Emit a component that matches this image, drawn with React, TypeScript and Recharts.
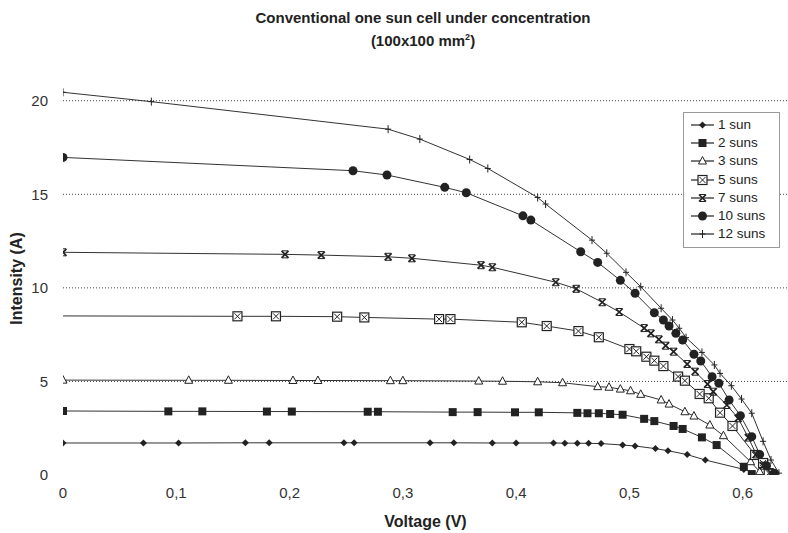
import { LineChart, Line, XAxis, YAxis, CartesianGrid, Legend, Label } from 'recharts';

// I-V curves (voltage in V, intensity in A)
const voltage1 = [0, 0.071, 0.102, 0.161, 0.182, 0.248, 0.257, 0.324, 0.345, 0.379, 0.4, 0.433, 0.443, 0.454, 0.464, 0.475, 0.494, 0.505, 0.523, 0.534, 0.551, 0.567, 0.601];
const current1 = [1.71, 1.71, 1.71, 1.72, 1.72, 1.72, 1.72, 1.72, 1.72, 1.71, 1.71, 1.71, 1.7, 1.7, 1.69, 1.68, 1.6, 1.55, 1.41, 1.3, 1.09, 0.8, 0.3];

const voltage2 = [0, 0.093, 0.123, 0.18, 0.202, 0.269, 0.278, 0.344, 0.366, 0.399, 0.42, 0.454, 0.463, 0.473, 0.483, 0.494, 0.513, 0.522, 0.539, 0.547, 0.564, 0.577, 0.601, 0.608];
const current2 = [3.42, 3.4, 3.4, 3.39, 3.39, 3.38, 3.38, 3.36, 3.36, 3.35, 3.35, 3.32, 3.3, 3.3, 3.26, 3.22, 3.0, 2.88, 2.62, 2.46, 2.01, 1.6, 0.44, 0.05];

const voltage3 = [0, 0.111, 0.146, 0.203, 0.225, 0.289, 0.3, 0.367, 0.388, 0.419, 0.441, 0.472, 0.482, 0.492, 0.501, 0.51, 0.528, 0.535, 0.549, 0.557, 0.571, 0.583, 0.607, 0.615];
const current3 = [5.07, 5.06, 5.06, 5.05, 5.05, 5.04, 5.04, 5.02, 5.01, 4.98, 4.93, 4.72, 4.69, 4.59, 4.5, 4.31, 4.01, 3.79, 3.38, 3.15, 2.67, 2.1, 0.71, 0.18];

const voltage5 = [0, 0.154, 0.188, 0.242, 0.266, 0.332, 0.342, 0.405, 0.427, 0.455, 0.473, 0.5, 0.506, 0.515, 0.522, 0.53, 0.543, 0.549, 0.562, 0.57, 0.58, 0.591, 0.611, 0.618, 0.623];
const current5 = [8.5, 8.48, 8.48, 8.46, 8.42, 8.33, 8.33, 8.16, 7.96, 7.69, 7.36, 6.73, 6.61, 6.32, 6.11, 5.82, 5.26, 5.04, 4.33, 4.1, 3.33, 2.62, 1.07, 0.64, 0.1];

const voltage7 = [0, 0.196, 0.228, 0.287, 0.308, 0.369, 0.379, 0.435, 0.453, 0.476, 0.491, 0.513, 0.519, 0.526, 0.532, 0.539, 0.551, 0.558, 0.569, 0.574, 0.586, 0.596, 0.605, 0.612, 0.618, 0.625];
const current7 = [11.9, 11.79, 11.75, 11.66, 11.58, 11.21, 11.1, 10.3, 9.95, 9.23, 8.71, 7.85, 7.57, 7.25, 6.91, 6.59, 5.93, 5.52, 4.86, 4.45, 3.74, 3.03, 2.0, 1.1, 0.5, 0.1];

const voltage10 = [0, 0.256, 0.286, 0.337, 0.356, 0.406, 0.413, 0.457, 0.472, 0.492, 0.505, 0.522, 0.53, 0.535, 0.541, 0.547, 0.557, 0.563, 0.573, 0.579, 0.588, 0.598, 0.608, 0.615, 0.621, 0.628];
const current10 = [16.97, 16.26, 16.03, 15.37, 15.08, 13.85, 13.62, 11.93, 11.36, 10.4, 9.71, 8.67, 8.28, 7.96, 7.57, 7.21, 6.45, 6.09, 5.25, 4.9, 4.01, 3.17, 2.05, 1.1, 0.5, 0.1];

const voltage12 = [0, 0.078, 0.287, 0.315, 0.359, 0.375, 0.419, 0.426, 0.467, 0.48, 0.497, 0.51, 0.528, 0.538, 0.544, 0.55, 0.564, 0.575, 0.58, 0.59, 0.599, 0.608, 0.618, 0.625, 0.632];
const current12 = [20.45, 19.95, 18.48, 17.95, 16.86, 16.38, 14.83, 14.48, 12.55, 11.85, 10.83, 10.06, 8.91, 8.28, 7.84, 7.34, 6.55, 5.88, 5.43, 4.77, 4.06, 3.3, 1.8, 0.8, 0.1];

const seriesNames = ['1 sun', '2 suns', '3 suns', '5 suns', '7 suns', '10 suns', '12 suns'];
const xTicks = [0, 0.1, 0.2, 0.3, 0.4, 0.5, 0.6];
const yTicks = [0, 5, 10, 15, 20];
const gridValues = [5, 10, 15, 20];

const INK = '#222';
const FONT = '"Liberation Sans", Arial, Helvetica, sans-serif';

type Shape = 'diamond' | 'square' | 'triangle' | 'boxcross' | 'star' | 'circle' | 'plus';

const toPoints = (v: number[], i: number[]) => v.map((x, k) => ({ v: x, i: i[k] }));

// hideFirst: the scan shows no marker at V=0 for that curve
const series: { name: string; shape: Shape; hideFirst?: boolean; data: { v: number; i: number }[] }[] = [
  { name: seriesNames[0], shape: 'diamond', data: toPoints(voltage1, current1) },
  { name: seriesNames[1], shape: 'square', data: toPoints(voltage2, current2) },
  { name: seriesNames[2], shape: 'triangle', data: toPoints(voltage3, current3) },
  { name: seriesNames[3], shape: 'boxcross', hideFirst: true, data: toPoints(voltage5, current5) },
  { name: seriesNames[4], shape: 'star', data: toPoints(voltage7, current7) },
  { name: seriesNames[5], shape: 'circle', data: toPoints(voltage10, current10) },
  { name: seriesNames[6], shape: 'plus', data: toPoints(voltage12, current12) },
];

const Marker = ({ shape, cx, cy }: { shape: Shape; cx: number; cy: number }) => {
  if (cx == null || cy == null) return <g />;
  switch (shape) {
    case 'diamond':
      return <polygon points={`${cx},${cy - 3.5} ${cx + 3.5},${cy} ${cx},${cy + 3.5} ${cx - 3.5},${cy}`} fill={INK} />;
    case 'square':
      return <rect x={cx - 4} y={cy - 4} width={8} height={8} fill={INK} />;
    case 'triangle':
      return <polygon points={`${cx},${cy - 4.5} ${cx + 4},${cy + 3} ${cx - 4},${cy + 3}`} fill="#fff" stroke={INK} strokeWidth={1} />;
    case 'boxcross':
      return (
        <g>
          <rect x={cx - 4.5} y={cy - 4.5} width={9} height={9} fill="#fff" stroke={INK} strokeWidth={1.2} />
          <path d={`M${cx - 3},${cy - 3}L${cx + 3},${cy + 3}M${cx + 3},${cy - 3}L${cx - 3},${cy + 3}`} stroke={INK} strokeWidth={1} />
        </g>
      );
    case 'star':
      return (
        <g>
          <path d={`M${cx - 3.5},${cy - 3.5}L${cx + 3.5},${cy + 3.5}M${cx + 3.5},${cy - 3.5}L${cx - 3.5},${cy + 3.5}`} stroke={INK} strokeWidth={1.7} />
          <path d={`M${cx - 3},${cy - 3.5}L${cx + 3},${cy - 3.5}M${cx - 3},${cy + 3.5}L${cx + 3},${cy + 3.5}`} stroke={INK} strokeWidth={1} />
        </g>
      );
    case 'circle':
      return <circle cx={cx} cy={cy} r={4.5} fill={INK} />;
    case 'plus':
      return <path d={`M${cx - 3},${cy}L${cx + 3},${cy}M${cx},${cy - 4}L${cx},${cy + 4}`} stroke={INK} strokeWidth={1} />;
    default:
      return <g />;
  }
};

const LegendBox = () => (
  <div
    style={{
      width: 97,
      height: 136,
      boxSizing: 'border-box',
      border: '1px solid #9a9a9a',
      background: '#fff',
      padding: '3px 0 0 7px',
      fontFamily: FONT,
    }}
  >
    {series.map((s) => (
      <div key={s.name} style={{ display: 'flex', alignItems: 'center', height: 18.2 }}>
        <svg width={23} height={12} style={{ overflow: 'visible' }}>
          <line x1={0} y1={6} x2={23} y2={6} stroke={INK} strokeWidth={1.2} />
          <Marker shape={s.shape} cx={11.5} cy={6} />
        </svg>
        <span style={{ marginLeft: 4, fontSize: 13.5, color: '#222', lineHeight: '14px' }}>{s.name}</span>
      </div>
    ))}
  </div>
);

const YTitle = ({ viewBox }: any) => {
  const cx = viewBox.x + 16;
  const cy = viewBox.y + viewBox.height / 2;
  return (
    <text
      x={cx}
      y={cy}
      transform={`rotate(-90, ${cx}, ${cy})`}
      textAnchor="middle"
      dominantBaseline="central"
      fontFamily={FONT}
      fontSize={16}
      fontWeight="bold"
      fill="#222"
    >
      Intensity (A)
    </text>
  );
};

const App = () => {
  return (
    <div style={{ position: 'absolute', left: 0, top: 0, width: 788, height: 533, background: '#fff', fontFamily: FONT }}>
      <div
        style={{
          position: 'absolute',
          top: 6,
          left: 58,
          width: 730,
          textAlign: 'center',
          fontSize: 15,
          fontWeight: 'bold',
          lineHeight: '23px',
          color: '#222',
        }}
      >
        Conventional one sun cell under concentration
        <br />
        (100x100 mm<sup style={{ fontSize: 9, lineHeight: 0 }}>2</sup>)
      </div>
      <LineChart width={788} height={533} margin={{ top: 82, right: 0, bottom: 0, left: 0 }}>
        <CartesianGrid vertical={false} horizontalValues={gridValues} stroke="#444" strokeDasharray="1 2" />
        <XAxis
          type="number"
          dataKey="v"
          domain={[0, 0.64]}
          ticks={xTicks}
          height={58}
          axisLine={false}
          tickLine={false}
          tickMargin={6}
          tickFormatter={(v: number) => String(v).replace('.', ',')}
          tick={{ fill: '#333', fontSize: 15, fontFamily: FONT }}
          allowDataOverflow
        >
          <Label value="Voltage (V)" position="insideBottom" offset={6} style={{ fontFamily: FONT, fontSize: 16, fontWeight: 'bold', fill: '#222' }} />
        </XAxis>
        <YAxis
          type="number"
          dataKey="i"
          domain={[0, 21]}
          ticks={yTicks}
          width={63}
          axisLine={false}
          tickLine={false}
          tickMargin={9}
          tick={{ fill: '#333', fontSize: 15, fontFamily: FONT }}
          allowDataOverflow
        >
          <Label content={<YTitle />} />
        </YAxis>
        <Legend
          layout="horizontal"
          verticalAlign="middle"
          content={() => <LegendBox />}
          wrapperStyle={{ position: 'absolute', top: 112, left: 683, width: 97 }}
        />
        {series.map((s) => (
          <Line
            key={s.name}
            name={s.name}
            data={s.data}
            dataKey="i"
            type="linear"
            stroke="#333"
            strokeWidth={1}
            isAnimationActive={false}
            activeDot={false}
            dot={(p: any) =>
              s.hideFirst && p.index === 0 ? (
                <g key={`${s.name}-${p.index}`} />
              ) : (
                <Marker key={`${s.name}-${p.index}`} shape={s.shape} cx={p.cx} cy={p.cy} />
              )
            }
          />
        ))}
      </LineChart>
    </div>
  );
};

export default App;
